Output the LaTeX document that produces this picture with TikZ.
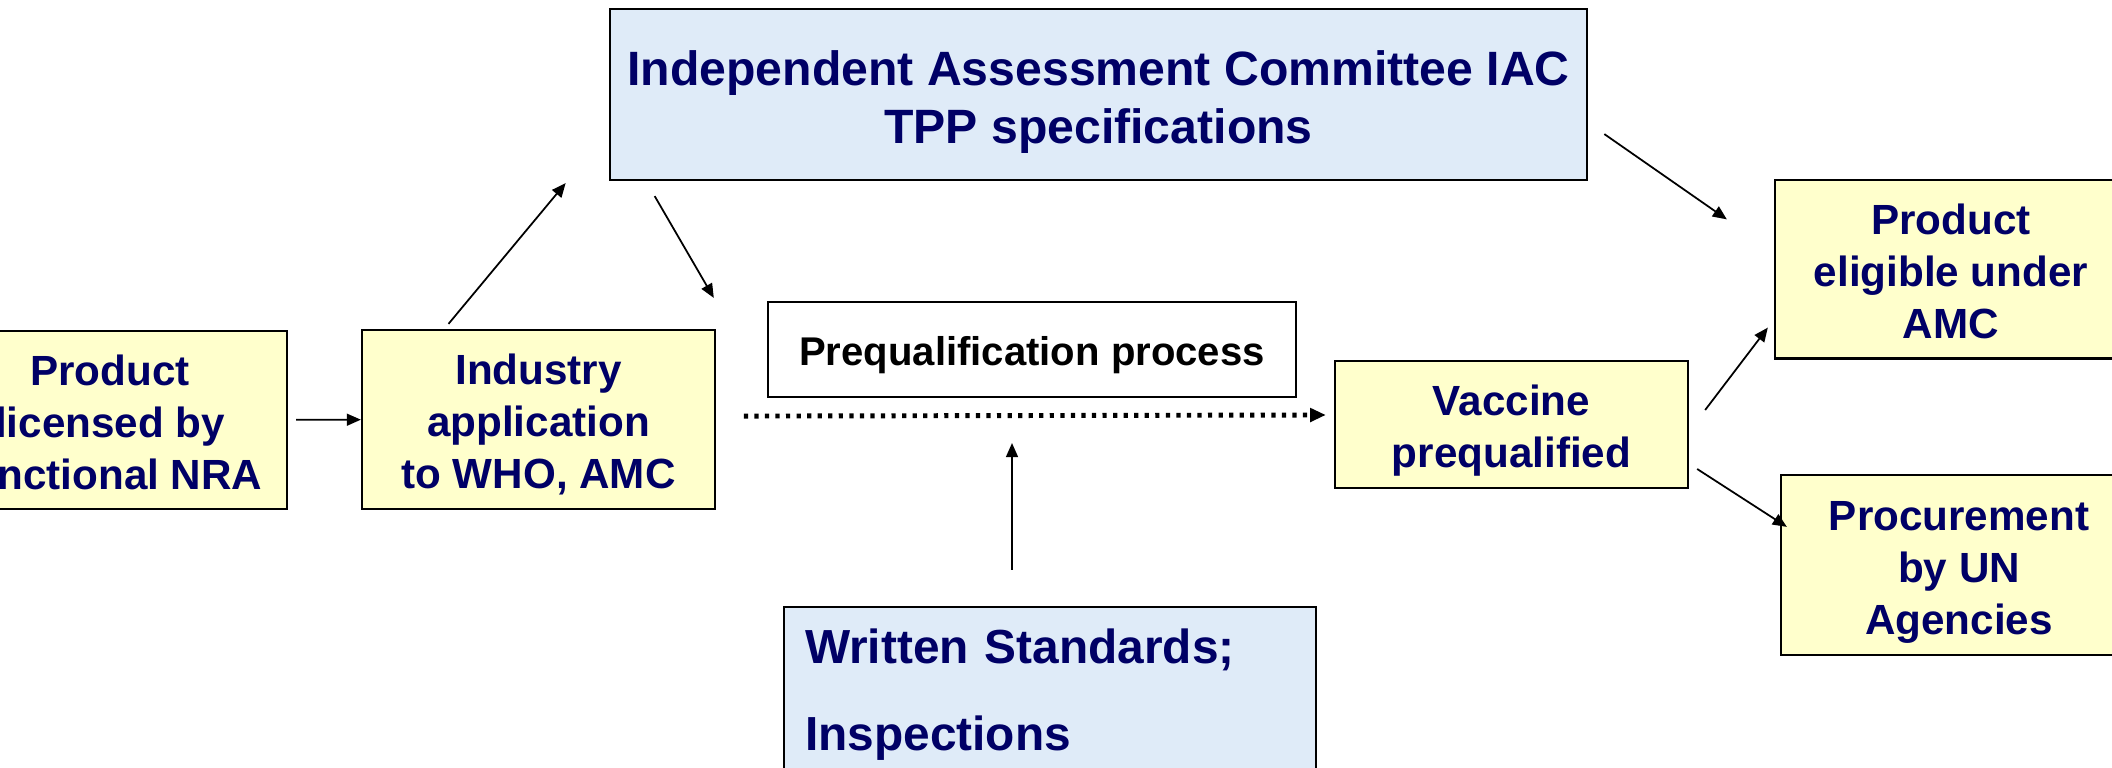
\documentclass[tikz,border=0pt]{standalone}
\usepackage{fontspec}
\setmainfont{Liberation Sans}
\usetikzlibrary{arrows.meta}
\definecolor{navytxt}{RGB}{0,0,102}
\definecolor{paleyellow}{RGB}{255,255,204}
\definecolor{paleblue}{RGB}{223,235,248}
%行高支撑, 让文字按整行高度居中
\newcommand\upstrut{\rule{0pt}{1.03em}}
\newcommand\dnstrut{\rule[-0.212em]{0pt}{0.212em}}

\begin{document}
\begin{tikzpicture}[x=0.01cm,y=-0.01cm,
    ybox/.style={draw, line width=0.6pt, fill=paleyellow, text=navytxt, align=center, inner sep=0pt,
      font=\bfseries\fontsize{12}{14.8}\selectfont},
    bbox/.style={draw, line width=0.6pt, fill=paleblue, text=navytxt, inner sep=0pt},
    arr/.style={line width=0.5pt, -{Triangle[length=4pt,width=3.4pt]}},
    dotarr/.style={line width=1.4pt, dash pattern=on 1.2pt off 1.8pt, -{Triangle[length=4.5pt,width=3.8pt]}}]
  %画布大小, 超出部分裁掉
  \useasboundingbox (0,0) rectangle (2112,768);
  \clip (0,0) rectangle (2112,768);
  %上方的评估委员会
  \node[bbox, minimum width=9.77cm, minimum height=1.71cm, align=center,
    font=\bfseries\fontsize{13.7}{16.5}\selectfont] (iac) at (1098.5,94.5)
    {\upstrut Independent Assessment Committee IAC\\TPP specifications\dnstrut};
  %左边两个黄色方框
  \node[ybox, minimum width=3.54cm, minimum height=1.78cm] (nra) at (110,420) {\upstrut Product\\licensed by\\functional NRA\dnstrut};
  \node[ybox, minimum width=3.53cm, minimum height=1.79cm] (indus) at (538.5,419.5) {\upstrut Industry\\application\\to WHO, AMC\dnstrut};
  %中间的白色方框
  \node[draw, line width=0.6pt, fill=white, inner sep=0pt, minimum width=5.28cm, minimum height=0.95cm,
    font=\bfseries\fontsize{11.4}{13.7}\selectfont] (preq) at (1032,349.5) {\upstrut Prequalification process\dnstrut};
  %下方的标准与检查
  \node[bbox, anchor=north west, text width=4.9cm, align=left, inner xsep=0.21cm, inner ysep=0.22cm,
    font=\bfseries\fontsize{13.6}{24.7}\selectfont] (writ) at (783,606) {Written Standards;\\Inspections};
  %右边三个黄色方框
  \node[ybox, minimum width=3.53cm, minimum height=1.27cm] (vacc) at (1511.5,424.5) {\upstrut Vaccine\\prequalified\dnstrut};
  \node[ybox, minimum width=3.52cm, minimum height=1.78cm] (elig) at (1951,269.5) {\upstrut Product\\eligible under\\AMC\dnstrut};
  \node[ybox, minimum width=3.56cm, minimum height=1.8cm] (procu) at (1959,565) {\upstrut Procurement\\by UN\\Agencies\dnstrut};
  %箭头
  \draw[arr, shorten <=0.08cm] (nra) -- (indus);
  \draw[arr] ([shift={(-90,-5)}]indus.north) -- ([shift={(-43,2)}]iac.south west);
  \draw[arr] ([shift={(46,15)}]iac.south west) -- ([shift={(-53,-3)}]preq.north west);
  \draw[dotarr] ([shift={(-23,18)}]preq.south west) -- ([shift={(-8,-9.5)}]vacc.west);
  \draw[arr] ([shift={(229,-36)}]writ.north west) -- ([shift={(-20,45)}]preq.south);
  \draw[arr] ([shift={(16,-47)}]iac.south east) -- ([shift={(-47,40)}]elig.north west);
  \draw[arr] ([shift={(16,-14.5)}]vacc.east) -- ([shift={(-6,-32)}]elig.south west);
  \draw[arr] ([shift={(8,44.5)}]vacc.east) -- ([shift={(7,53)}]procu.north west);
\end{tikzpicture}
\end{document}
